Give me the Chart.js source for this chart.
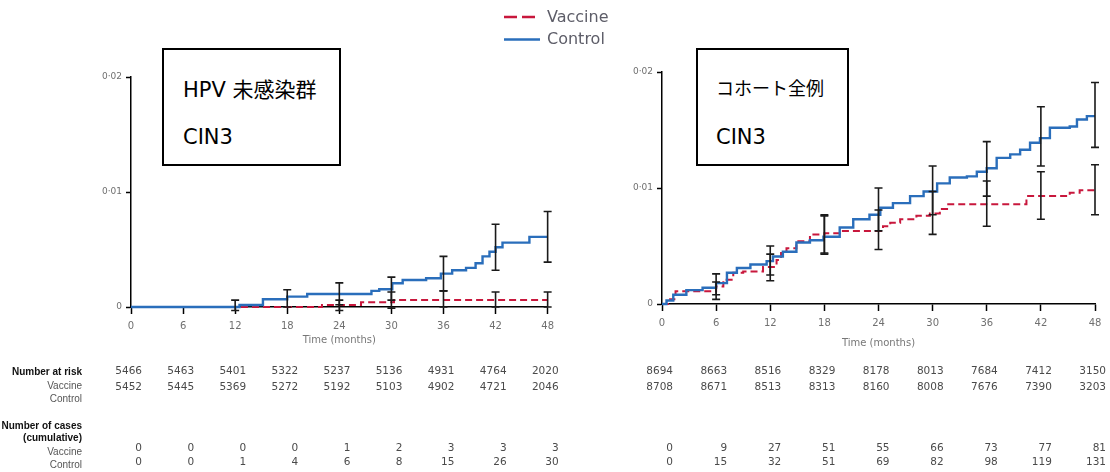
<!DOCTYPE html>
<html><head><meta charset="utf-8">
<script src="https://cdn.jsdelivr.net/npm/chart.js@4.4.1/dist/chart.umd.min.js"></script>
<style>
body{margin:0;background:#fff;}
#wrap{position:relative;width:1110px;height:472px;overflow:hidden;background:#fff;}
canvas{position:absolute;top:0;}
.box{position:absolute;border:2px solid #000;box-sizing:border-box;background:#fff;}
.bt{position:absolute;color:#000;white-space:nowrap;line-height:1;transform:translateY(-50%);font-family:"DejaVu Sans","Noto Sans CJK JP",sans-serif;}
.lg{position:absolute;font-family:"DejaVu Sans",sans-serif;font-size:16px;color:#5d5d68;line-height:1;transform:translateY(-50%);}
</style></head><body>
<div id="wrap">
<canvas id="c1" width="560" height="472" style="left:0"></canvas>
<canvas id="c2" width="550" height="472" style="left:560px"></canvas>
<svg style="position:absolute;left:0;top:0" width="1110" height="60">
  <line x1="504" y1="17" x2="540" y2="17" stroke="#c8173c" stroke-width="2.5" stroke-dasharray="13 5"/>
  <line x1="504" y1="39.5" x2="540" y2="39.5" stroke="#2a6ebb" stroke-width="2.5"/>
</svg>
<div class="lg" style="left:547px;top:17px">Vaccine</div>
<div class="lg" style="left:547px;top:39px">Control</div>
<div class="box" style="left:162px;top:48px;width:179px;height:118px"></div>
<div class="bt" style="left:183px;top:90px;font-size:21px">HPV 未感染群</div>
<div class="bt" style="left:183px;top:137px;font-size:21px">CIN3</div>
<div class="box" style="left:696px;top:48px;width:153px;height:118px"></div>
<div class="bt" style="left:716px;top:89px;font-size:18px">コホート全例</div>
<div class="bt" style="left:716px;top:137px;font-size:21px">CIN3</div>
</div>
<script>
// ---- shared axes ----
const months = [0, 6, 12, 18, 24, 30, 36, 42, 48];
const yTickVals = [0, 0.01, 0.02];
const yTickLabels = ['0', '0·01', '0·02'];

// ---- left panel (HPV 未感染群) curves ----
const leftCtrlT = [0, 12.5, 15.2, 18, 20.3, 27.7, 28.6, 30.1, 31.3, 34, 35.7, 37, 38.6, 39.7, 40.5, 41.3, 42, 42.8, 45.9, 48];
const leftCtrlV = [0, 0.00017, 0.00067, 0.0009, 0.00113, 0.0014, 0.00154, 0.00206, 0.00235, 0.0025, 0.0029, 0.0032, 0.0034, 0.0038, 0.0044, 0.0048, 0.0052, 0.0056, 0.0061, 0.0061];
const leftVacT = [0, 22, 26.5, 30.3, 48];
const leftVacV = [0, 0.00018, 0.00042, 0.0006, 0.0006];
// error bars
const leftCtrlErrM = [12, 18, 24, 30, 36, 42, 48];
const leftCtrlLow = [-0.0003, 0.0, 0.0002, 0.0006, 0.0014, 0.0032, 0.0039];
const leftCtrlHigh = [0.0006, 0.0015, 0.0021, 0.0026, 0.0044, 0.0072, 0.0083];
const leftVacErrM = [24, 30, 36, 42, 48];
const leftVacLow = [-0.0003, -0.0001, 0, 0, 0];
const leftVacHigh = [0.0006, 0.0013, 0.0014, 0.0013, 0.0013];
// table
const leftRiskA = [5466, 5463, 5401, 5322, 5237, 5136, 4931, 4764, 2020];
const leftRiskB = [5452, 5445, 5369, 5272, 5192, 5103, 4902, 4721, 2046];
const leftCasesVac = [0, 0, 0, 0, 1, 2, 3, 3, 3];
const leftCasesCtl = [0, 0, 1, 4, 6, 8, 15, 26, 30];

// ---- right panel (コホート全例) curves ----
const rightCtrlT = [0, 0.5, 1.25, 2.7, 4.5, 6, 7.2, 8.3, 9.8, 11.6, 12.3, 13.4, 14.9, 16.4, 17.9, 19.7, 21.2, 23, 24.2, 25.6, 27.5, 29, 30.5, 31.9, 33.8, 34.9, 36, 37.1, 38.6, 39.7, 40.8, 41.9, 43, 45.2, 46, 47.1, 48];
const rightCtrlV = [0, 0.0003, 0.0008, 0.0012, 0.0014, 0.0018, 0.0027, 0.0031, 0.0034, 0.0037, 0.0041, 0.0045, 0.0053, 0.0055, 0.0058, 0.0066, 0.0073, 0.0077, 0.0083, 0.0087, 0.0093, 0.0097, 0.0104, 0.0109, 0.011, 0.0114, 0.0117, 0.0126, 0.0129, 0.0133, 0.0139, 0.0143, 0.0152, 0.0153, 0.0159, 0.0162, 0.0162];
const rightVacT = [0, 0.9, 1.5, 6, 6.8, 7.9, 9, 11.2, 12.7, 13.2, 13.8, 14.9, 16.4, 18, 19.7, 24.5, 25.3, 26.4, 28.2, 29.7, 30.8, 31.6, 40.4, 45.2, 46.3, 48];
const rightVacV = [0, 0.0004, 0.0011, 0.0015, 0.0021, 0.0027, 0.0028, 0.0032, 0.0038, 0.0044, 0.0048, 0.0054, 0.006, 0.0061, 0.0063, 0.0067, 0.007, 0.0073, 0.0076, 0.0078, 0.0082, 0.0086, 0.0093, 0.0096, 0.0098, 0.0098];
const rightErrM = [6, 12, 18, 24, 30, 36, 42, 48];
const rightCtrlLow = [0.0008, 0.0025, 0.0044, 0.0063, 0.0077, 0.0093, 0.0119, 0.0135];
const rightCtrlHigh = [0.0026, 0.0050, 0.0077, 0.0100, 0.0119, 0.0140, 0.0170, 0.0191];
const rightVacLow = [0.0004, 0.0020, 0.0043, 0.0047, 0.0060, 0.0067, 0.0073, 0.0077];
const rightVacHigh = [0.0019, 0.0043, 0.0076, 0.0081, 0.0097, 0.0106, 0.0114, 0.0120];
const rightRiskA = [8694, 8663, 8516, 8329, 8178, 8013, 7684, 7412, 3150];
const rightRiskB = [8708, 8671, 8513, 8313, 8160, 8008, 7676, 7390, 3203];
const rightCasesVac = [0, 9, 27, 51, 55, 66, 73, 77, 81];
const rightCasesCtl = [0, 15, 32, 51, 69, 82, 98, 119, 131];

const rowLabels = [
  {t: 'Number at risk', y: 372, bold: true},
  {t: 'Vaccine', y: 386, bold: false},
  {t: 'Control', y: 399, bold: false},
  {t: 'Number of cases', y: 426, bold: true},
  {t: '(cumulative)', y: 438, bold: true},
  {t: 'Vaccine', y: 452, bold: false},
  {t: 'Control', y: 465, bold: false}
];

const BLUE = '#2a6ebb', RED = '#c8173c', TICK = '#707070', NUM = '#4a4a4a';

function pts(t, v) { return t.map((x, i) => ({x: x, y: v[i]})); }

function overlay(o) {
  return {
    id: 'ov' + o.id,
    afterDatasetsDraw(chart) {
      const ctx = chart.ctx, xs = chart.scales.x, ys = chart.scales.y;
      ctx.save();
      ctx.strokeStyle = '#1a1a1a';
      ctx.lineWidth = 1.6;
      const bar = (m, lo, hi) => {
        const x = xs.getPixelForValue(m), y1 = ys.getPixelForValue(lo), y2 = ys.getPixelForValue(hi);
        ctx.beginPath();
        ctx.moveTo(x, y1); ctx.lineTo(x, y2);
        ctx.moveTo(x - 4, y1); ctx.lineTo(x + 4, y1);
        ctx.moveTo(x - 4, y2); ctx.lineTo(x + 4, y2);
        ctx.stroke();
      };
      o.ctlErrM.forEach((m, i) => bar(m, o.ctlLow[i], o.ctlHigh[i]));
      o.vacErrM.forEach((m, i) => bar(m, o.vacLow[i], o.vacHigh[i]));
      ctx.restore();
    },
    afterDraw(chart) {
      const ctx = chart.ctx, xs = chart.scales.x, ca = chart.chartArea;
      ctx.save();
      ctx.fillStyle = '#777';
      ctx.font = '10px "DejaVu Sans"';
      ctx.textAlign = 'center'; ctx.textBaseline = 'middle';
      ctx.fillText('Time (months)', (ca.left + ca.right) / 2, o.titleY);
      ctx.fillStyle = NUM;
      ctx.font = '10.5px "DejaVu Sans"';
      ctx.textAlign = 'right';
      const rows = [[o.riskA, 371], [o.riskB, 387], [o.casesVac, 448], [o.casesCtl, 462]];
      rows.forEach(([arr, y]) => {
        arr.forEach((v, i) => ctx.fillText(String(v), xs.getPixelForValue(months[i]) + 11, y));
      });
      if (o.labels) {
        rowLabels.forEach(r => {
          ctx.fillStyle = r.bold ? '#111' : '#555';
          ctx.font = (r.bold ? 'bold ' : '') + '10px "Liberation Sans Narrow","Liberation Sans"';
          ctx.fillText(r.t, 82, r.y);
        });
      }
      ctx.restore();
    }
  };
}

function makeChart(id, o) {
  return new Chart(document.getElementById(id), {
    type: 'line',
    data: {datasets: [
      {label: 'Control', data: pts(o.ctlT, o.ctlV), borderColor: BLUE, borderWidth: 2.4, stepped: true, pointRadius: 0, fill: false, clip: false},
      {label: 'Vaccine', data: pts(o.vacT, o.vacV), borderColor: RED, borderWidth: 2, borderDash: [7, 4], stepped: true, pointRadius: 0, fill: false, clip: false}
    ]},
    options: {
      responsive: false, animation: false, devicePixelRatio: 1,
      layout: {padding: {left: 0, right: o.padR, top: o.padT, bottom: 0}},
      plugins: {legend: {display: false}, tooltip: {enabled: false}},
      scales: {
        x: {
          type: 'linear', min: 0, max: 48,
          afterFit: s => { s.height = o.xH; },
          afterBuildTicks: s => { s.ticks = months.map(v => ({value: v})); },
          ticks: {padding: o.xPad, color: TICK, font: {family: 'DejaVu Sans', size: 10}, maxRotation: 0, autoSkip: false},
          grid: {display: true, drawOnChartArea: false, drawTicks: true, tickLength: 7, tickColor: '#000', tickWidth: 1.5},
          border: {display: true, color: '#000', width: 1.5}
        },
        y: {
          type: 'linear', min: 0, max: 0.02,
          afterFit: s => { s.width = o.yW; },
          afterBuildTicks: s => { s.ticks = yTickVals.map(v => ({value: v})); },
          ticks: {callback: (v, i) => yTickLabels[i], padding: 4, color: TICK, font: {family: 'DejaVu Sans', size: 9}},
          grid: {display: true, drawOnChartArea: false, drawTicks: true, tickLength: 5, tickColor: '#000', tickWidth: 1.5},
          border: {display: true, color: '#000', width: 1.5}
        }
      }
    },
    plugins: [overlay(o)]
  });
}

makeChart('c1', {
  id: 1, ctlT: leftCtrlT, ctlV: leftCtrlV, vacT: leftVacT, vacV: leftVacV,
  ctlErrM: leftCtrlErrM, ctlLow: leftCtrlLow, ctlHigh: leftCtrlHigh,
  vacErrM: leftVacErrM, vacLow: leftVacLow, vacHigh: leftVacHigh,
  riskA: leftRiskA, riskB: leftRiskB, casesVac: leftCasesVac, casesCtl: leftCasesCtl,
  padR: 11, padT: 77, xH: 165, yW: 131, xPad: 6, titleY: 340, labels: true
});
makeChart('c2', {
  id: 2, ctlT: rightCtrlT, ctlV: rightCtrlV, vacT: rightVacT, vacV: rightVacV,
  ctlErrM: rightErrM, ctlLow: rightCtrlLow, ctlHigh: rightCtrlHigh,
  vacErrM: rightErrM, vacLow: rightVacLow, vacHigh: rightVacHigh,
  riskA: rightRiskA, riskB: rightRiskB, casesVac: rightCasesVac, casesCtl: rightCasesCtl,
  padR: 15, padT: 72, xH: 168, yW: 102, xPad: 6, titleY: 343, labels: false
});
</script>
</body></html>
